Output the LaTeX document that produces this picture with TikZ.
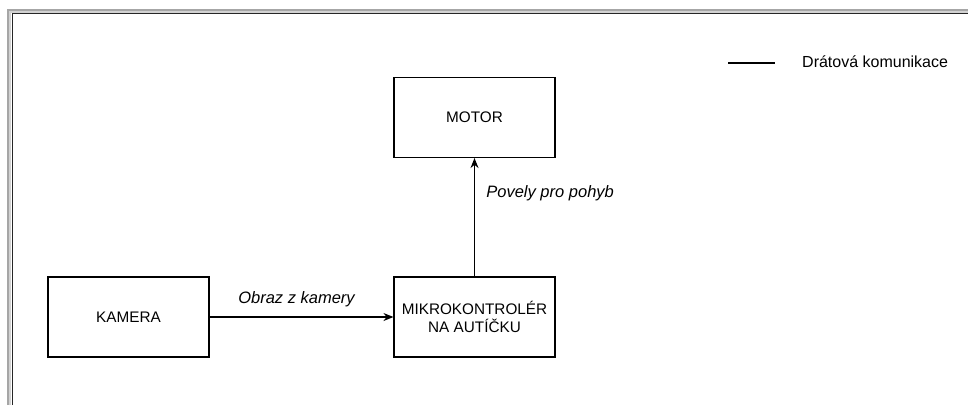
\documentclass[tikz,border=0pt]{standalone}
\usepackage{fontspec}
\setmainfont{Liberation Sans}
\usepackage{tikz}
\usetikzlibrary{arrows.meta}

\begin{document}
\begin{tikzpicture}[x=1pt, y=-1pt, >={Stealth[length=10pt, width=8pt]},
  blok/.style={draw, line width=1.1pt, minimum width=161pt, minimum height=80pt,
    align=center, font=\fontsize{15.3}{17.5}\selectfont},
  popis/.style={font=\fontsize{16.5}{19}\selectfont\itshape},
  spoj/.style={line width=1.1pt, ->}]

  \useasboundingbox (0,0) rectangle (968,405);

  % ── page frame (only top and left edge visible) ─────────────────────────
  \draw[gray!70, line width=2pt] (8,405) -- (8,10) -- (968,10);
  \draw[gray!35, line width=1.5pt] (10,405) -- (10,12) -- (968,12);
  \draw[black!85, line width=1pt] (12,405) -- (12,13.5) -- (968,13.5);

  % ── blocks ───────────────────────────────────────────────────────────────
  \node[blok] (motor)  at (474.5,117.5) {MOTOR};
  \node[blok] (kamera) at (128.5,317)   {KAMERA};
  \node[blok] (mcu)    at (474.5,317)   {MIKROKONTROLÉR\\NA AUTÍČKU};

  % ── connections ──────────────────────────────────────────────────────────
  \draw[spoj] (kamera.east) -- (mcu.west)
    node[popis, midway, above=6pt, xshift=-5pt] {Obraz z kamery};
  \draw[spoj] (mcu.north) -- (motor.south)
    node[popis, pos=0.7, right=8pt] {Povely pro pohyb};

  % ── legend ───────────────────────────────────────────────────────────────
  \coordinate (leg1) at (728,63);
  \coordinate (leg2) at (775,63);
  \draw[line width=1.1pt] (leg1) -- (leg2);
  \node[anchor=west, inner sep=0pt, font=\fontsize{16}{18}\selectfont]
    (legtext) at (802,62) {Drátová komunikace};

\end{tikzpicture}
\end{document}
